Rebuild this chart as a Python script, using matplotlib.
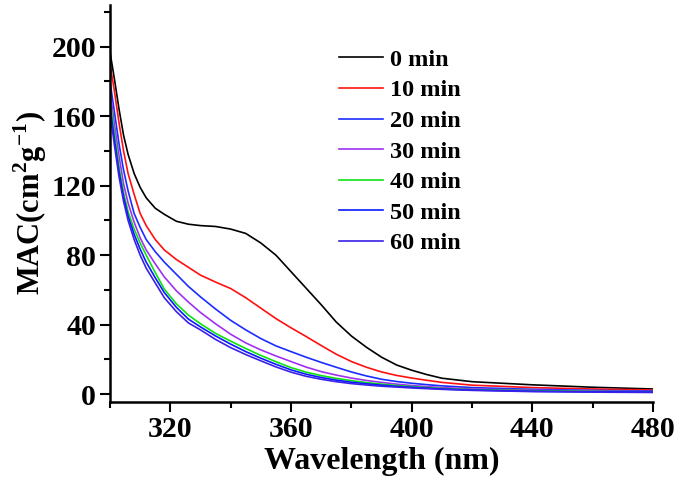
import numpy as np
import matplotlib.pyplot as plt
from matplotlib.ticker import MultipleLocator

plt.rcParams['font.family'] = 'Liberation Serif'
plt.rcParams['font.weight'] = 'bold'
plt.rcParams['mathtext.fontset'] = 'custom'
plt.rcParams['mathtext.rm'] = 'Liberation Serif:bold'
plt.rcParams['mathtext.bf'] = 'Liberation Serif:bold'

# wavelength grid (nm)
wl = [300, 301.5, 303, 304.5, 306, 308, 310, 312, 315, 318, 322, 326, 330,
      335, 340, 345, 350, 355, 360, 365, 370, 375, 380, 385, 390, 395, 400,
      405, 410, 420, 440, 460, 480]

mac_0 = [197, 181, 164, 149, 138, 127, 119, 113, 107, 103.5,
         99.5, 97.8, 97, 96.5, 95, 92.5, 87, 80, 70.5, 61,
         51.5, 41.5, 33.5, 27, 21.3, 16.8, 13.8, 11.3, 9.2, 7.2,
         5.4, 4, 3]
mac_10 = [190, 174, 156, 140, 127, 115, 104, 97, 89, 83,
          77.5, 73, 68.5, 64.5, 60.8, 55.5, 49.5, 43.5, 38.2, 33.2,
          28, 23, 18.8, 15.5, 12.8, 10.8, 9.3, 8, 6.8, 5.2,
          3.8, 3, 2.4]
mac_20 = [180, 162, 144, 129, 117, 104, 96, 89, 82, 76,
          69, 62, 56, 49, 42.5, 37, 32, 27.8, 24.5, 21.3,
          18.3, 15.5, 12.8, 10.5, 8.6, 7.3, 6.3, 5.5, 4.8, 3.8,
          2.8, 2.2, 1.8]
mac_30 = [175, 155, 137, 121, 110, 99, 90, 83, 75, 67.5,
          59.5, 53, 47, 40.5, 34.5, 29.5, 25.5, 22, 18.8, 15.6,
          13, 11, 9.3, 7.9, 6.8, 5.8, 5, 4.4, 3.8, 3,
          2.3, 1.8, 1.5]
mac_40 = [170, 150, 131, 116, 105, 95, 87, 80, 70, 60.5,
          52, 45.5, 40.5, 35, 30.5, 26.3, 22.3, 18.7, 15.3, 12.7,
          10.7, 9.1, 7.8, 6.7, 5.8, 5, 4.4, 3.8, 3.3, 2.6,
          2, 1.6, 1.3]
mac_50 = [166, 146, 128, 113.5, 102.5, 92, 83.5, 76, 67, 58.5,
          50, 43.2, 38.7, 33.5, 28.8, 24.5, 20.7, 17.2, 14, 11.5,
          9.6, 8.1, 6.9, 6, 5.2, 4.5, 4, 3.5, 3, 2.4,
          1.7, 1.4, 1.2]
mac_60 = [162, 143, 125, 111, 100, 89, 80, 72.5, 64, 55.5,
          47.5, 41, 37, 31.5, 26.8, 22.8, 19.2, 15.7, 12.7, 10.3,
          8.6, 7.2, 6.1, 5.3, 4.6, 4.1, 3.6, 3.2, 2.8, 2.2,
          1.5, 1.2, 1.0]

labels = ['0 min', '10 min', '20 min', '30 min', '40 min', '50 min', '60 min']
colors = ['black', '#ff1010', '#1a2cff', '#a030f0', '#10e010', '#0a1aff', '#3a20e8']
series = [mac_0, mac_10, mac_20, mac_30, mac_40, mac_50, mac_60]

fig = plt.figure(figsize=(6.81, 4.86), dpi=100)
ax = fig.add_axes([0.1615, 0.1735, 0.7975, 0.8165])

for y, c, lab in zip(series, colors, labels):
    ax.plot(wl, y, color=c, lw=1.2, label=lab)

ax.set_xlim(300, 480)
ax.set_ylim(-4.3, 224)
ax.xaxis.set_minor_locator(MultipleLocator(20))
ax.yaxis.set_major_locator(MultipleLocator(40))
ax.yaxis.set_minor_locator(MultipleLocator(20))
ax.set_xticks([320, 360, 400, 440, 480])

for s in ['top', 'right']:
    ax.spines[s].set_visible(False)
for s in ['left', 'bottom']:
    ax.spines[s].set_linewidth(1.8)

ax.tick_params(which='major', direction='out', length=7, width=1.5,
               labelsize=21.5, pad=3)
ax.tick_params(which='minor', direction='out', length=4, width=1.5)

ax.set_xlabel('Wavelength (nm)', fontsize=23, fontweight='bold', labelpad=3)
ax.set_ylabel(r'MAC(cm$^{\mathbf{2}}$g$^{\mathbf{-1}}$)', fontsize=22,
              fontweight='bold', labelpad=2)

leg = ax.legend(loc='upper left', bbox_to_anchor=(0.381, 0.944), frameon=False,
                prop={'family': 'Liberation Serif', 'weight': 'bold', 'size': 17.5},
                handlelength=1.8, handletextpad=0.3, labelspacing=0.35)

plt.savefig('out.png', dpi=100)
